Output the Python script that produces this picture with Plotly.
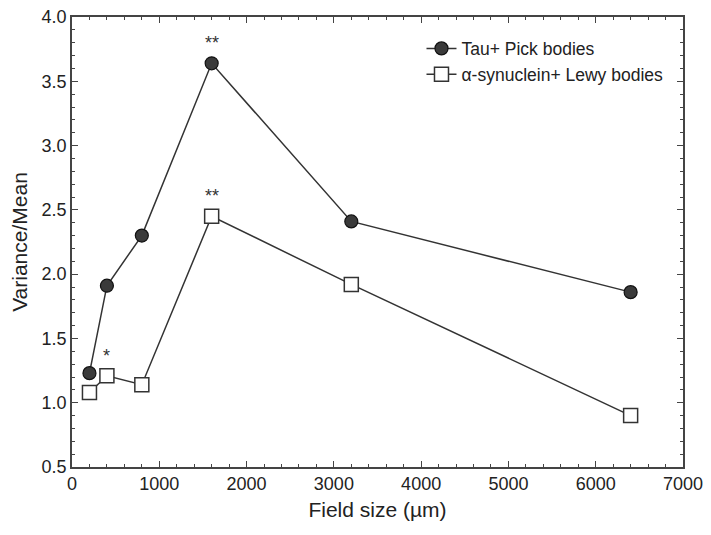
import plotly.graph_objects as go

field_size = [200, 400, 800, 1600, 3200, 6400]
tau_vm = [1.23, 1.91, 2.30, 3.64, 2.41, 1.86]
syn_vm = [1.08, 1.21, 1.14, 2.45, 1.92, 0.90]

sig_x = [1600, 1600, 400]
sig_y = [3.64, 2.45, 1.21]
sig_text = ["**", "**", "*"]

font_family = "Liberation Sans, Arial, sans-serif"

fig = go.Figure()
fig.add_trace(go.Scatter(
    x=field_size, y=tau_vm, mode="lines+markers", name="Tau+ Pick bodies",
    line=dict(color="#333333", width=1.5),
    marker=dict(symbol="circle", size=13, color="#3a3a3a",
                line=dict(color="#111111", width=1.2)),
))
fig.add_trace(go.Scatter(
    x=field_size, y=syn_vm, mode="lines+markers", name="α-synuclein+ Lewy bodies",
    line=dict(color="#333333", width=1.5),
    marker=dict(symbol="square", size=14, color="white",
                line=dict(color="#333333", width=1.5)),
))

for xv, yv, t in zip(sig_x, sig_y, sig_text):
    fig.add_annotation(x=xv, y=yv, text=t, showarrow=False, yshift=20,
                       font=dict(size=18, color="#333333", family=font_family))

axis_common = dict(
    showline=True, linecolor="#444444", linewidth=1.5, mirror="allticks",
    ticks="inside", ticklen=6, tickcolor="#444444", tickwidth=1,
    showgrid=False, zeroline=False, automargin=False,
    ticklabeloverflow="allow",
    tickfont=dict(size=18, color="#222222", family=font_family),
)

fig.update_xaxes(
    range=[0, 7000], tick0=0, dtick=1000,
    minor=dict(dtick=200, ticks="inside", ticklen=3, tickcolor="#444444"),
    title=dict(text="Field size (µm)", font=dict(size=21, color="#222222", family=font_family), standoff=9),
    **axis_common,
)
fig.update_yaxes(
    range=[0.5, 4.0], tick0=0.5, dtick=0.5, tickformat=".1f",
    minor=dict(dtick=0.1, ticks="inside", ticklen=3, tickcolor="#444444"),
    title=dict(text="Variance/Mean", font=dict(size=21, color="#222222", family=font_family), standoff=10),
    **axis_common,
)

fig.update_layout(
    width=703, height=527,
    margin=dict(l=64, r=28, t=9, b=68),
    paper_bgcolor="white", plot_bgcolor="white",
    showlegend=True,
    legend=dict(x=0.572, y=0.97, xanchor="left", yanchor="top",
                bgcolor="rgba(0,0,0,0)", borderwidth=0,
                font=dict(size=17.5, color="#222222", family=font_family),
                tracegroupgap=0, itemwidth=30),
    font=dict(family=font_family),
)

fig.write_html("out.html")
